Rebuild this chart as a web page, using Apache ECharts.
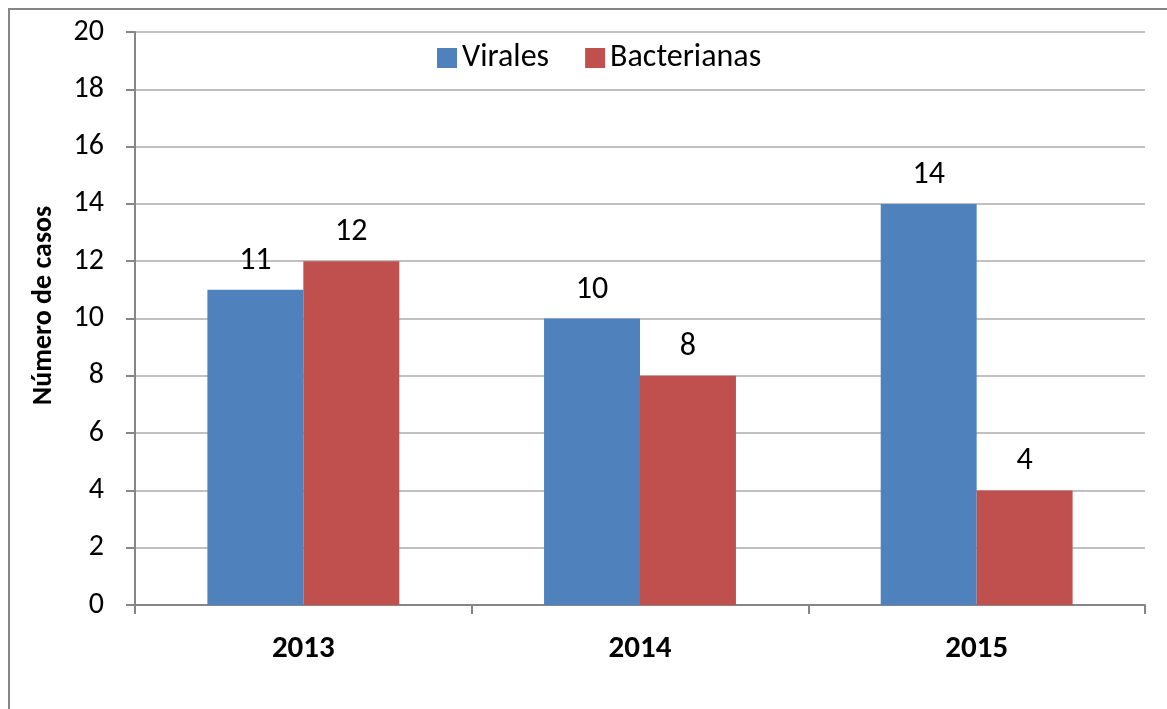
<!DOCTYPE html>
<html><head><meta charset="utf-8">
<script src="https://cdn.jsdelivr.net/npm/echarts@6/dist/echarts.min.js"></script>
<style>html,body{margin:0;padding:0;background:#fff}#c{width:1167px;height:709px;position:relative}
#frame{position:absolute;left:8px;top:8px;width:1170px;height:720px;border:2px solid #868686;box-sizing:border-box;pointer-events:none}</style>
</head><body><div id="c"></div><div id="frame"></div>
<script>
var categories = ['2013', '2014', '2015'];
var virales = [11, 10, 14];
var bacterianas = [12, 8, 4];
var seriesNames = ['Virales', 'Bacterianas'];
var font = 'Carlito, Lato, sans-serif';
var chart = echarts.init(document.getElementById('c'), null, {renderer: 'canvas'});
var lbl = {show: true, position: 'top', distance: 13, color: '#000', fontSize: 32, fontFamily: font};
chart.setOption({
  animation: false,
  backgroundColor: 'transparent',
  legend: {
    top: 37, left: 432, itemWidth: 20, itemHeight: 20, itemGap: 36,
    icon: 'rect',
    textStyle: {fontSize: 32, fontFamily: font, color: '#000'},
    data: seriesNames
  },
  grid: {left: 135, right: 22, top: 32, bottom: 104, containLabel: false},
  xAxis: {
    type: 'category', data: categories,
    axisLine: {lineStyle: {color: '#868686', width: 2}},
    axisTick: {show: true, length: 9, alignWithLabel: false, lineStyle: {color: '#868686', width: 2}},
    axisLabel: {fontSize: 31, fontWeight: 'bold', color: '#000', fontFamily: font, margin: 29}
  },
  yAxis: {
    type: 'value', min: 0, max: 20, interval: 2,
    name: 'Número de casos', nameLocation: 'middle', nameGap: 77, nameRotate: 90,
    nameTextStyle: {fontSize: 28, fontWeight: 'bold', color: '#000', fontFamily: font, padding: [0, 0, 0, 26]},
    axisLine: {show: true, lineStyle: {color: '#868686', width: 2}},
    axisTick: {show: true, length: 9, inside: false, lineStyle: {color: '#868686', width: 2}},
    axisLabel: {fontSize: 30, color: '#000', fontFamily: font, margin: 31},
    splitLine: {lineStyle: {color: '#c0c0c0', width: 2}}
  },
  series: [
    {name: seriesNames[0], type: 'bar', data: virales, barGap: '0%', barCategoryGap: '43%',
     itemStyle: {color: '#4f81bd'}, label: lbl},
    {name: seriesNames[1], type: 'bar', data: bacterianas,
     itemStyle: {color: '#c0504d'}, label: lbl}
  ]
});
</script></body></html>
